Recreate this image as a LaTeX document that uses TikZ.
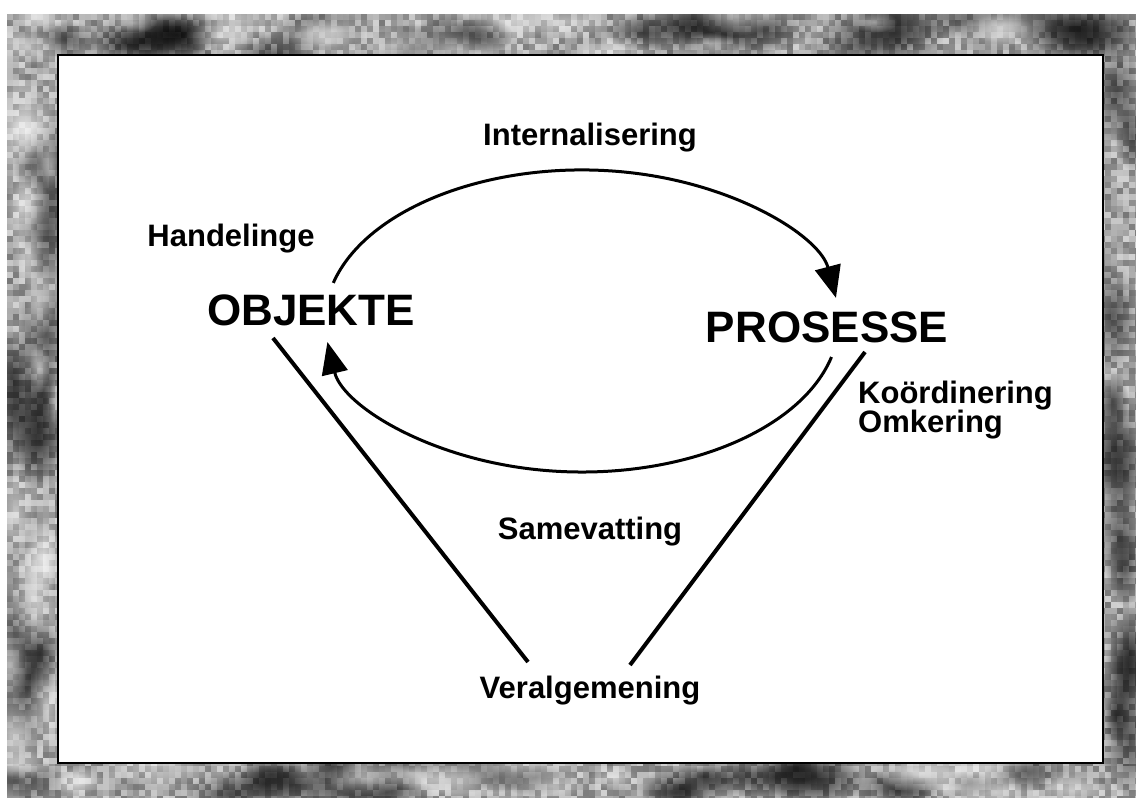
\documentclass[tikz,border=0pt]{standalone}
\usepackage{fontspec}
\setmainfont{Liberation Sans}
\usetikzlibrary{arrows.meta,fadings}
\tikzfading[name=softblob, inner color=transparent!0, outer color=transparent!100]
\tikzset{
  label/.style={font=\bfseries\fontsize{31}{36}\selectfont, inner sep=0pt, anchor=base},
  big/.style={font=\bfseries\fontsize{44}{50}\selectfont, inner sep=0pt, anchor=base},
  cycle/.style={line width=3pt, -{Triangle[length=32pt,width=26pt]}},
  leg/.style={line width=4pt},
  grain/.style={fill=black!#1},
  blob/.style={fill=black, opacity=0.5, path fading=softblob},
  glint/.style={fill=white, opacity=0.45, path fading=softblob}
}
\begin{document}
\begin{tikzpicture}[x=1pt,y=-1pt]
\useasboundingbox (0,0) rectangle (1136,798);

% grainy grey mount around the sheet
\fill[black!36] (7,14) rectangle (1136,798);
\begin{scope}
  \clip (7,14) rectangle (1136,798);
  \pgfmathsetseed{5}
  % fine grain, band by band
  \foreach \x in {7,13,...,1135}{
    \foreach \y in {14,20,...,56, 760,766,...,796}{
      \pgfmathtruncatemacro{\v}{18+36*rnd}
      \fill[grain=\v] (\x,\y) rectangle +(6,6);
    }
  }
  \foreach \y in {56,62,...,760}{
    \foreach \x in {7,13,...,55, 1099,1105,...,1135}{
      \pgfmathtruncatemacro{\v}{18+36*rnd}
      \fill[grain=\v] (\x,\y) rectangle +(6,6);
    }
  }
  % darker clouds
  \foreach \i in {1,...,24}{
    \pgfmathsetmacro{\px}{7+rnd*1129}
    \pgfmathsetmacro{\py}{14+rnd*41}
    \pgfmathsetmacro{\pr}{14+rnd*22}
    \fill[blob] (\px,\py) ellipse[x radius=\pr*2, y radius=\pr];
    \pgfmathsetmacro{\px}{7+rnd*1129}
    \pgfmathsetmacro{\py}{763+rnd*35}
    \pgfmathsetmacro{\pr}{12+rnd*18}
    \fill[blob] (\px,\py) ellipse[x radius=\pr*2, y radius=\pr];
  }
  \foreach \i in {1,...,13}{
    \pgfmathsetmacro{\px}{7+rnd*51}
    \pgfmathsetmacro{\py}{55+rnd*708}
    \pgfmathsetmacro{\pr}{14+rnd*20}
    \fill[blob] (\px,\py) ellipse[x radius=\pr, y radius=\pr*2];
    \pgfmathsetmacro{\px}{1103+rnd*33}
    \pgfmathsetmacro{\py}{55+rnd*708}
    \pgfmathsetmacro{\pr}{12+rnd*18}
    \fill[blob] (\px,\py) ellipse[x radius=\pr, y radius=\pr*2];
  }
  % lighter patches
  \foreach \i in {1,...,18}{
    \pgfmathsetmacro{\px}{7+rnd*1129}
    \pgfmathsetmacro{\py}{14+rnd*41}
    \pgfmathsetmacro{\pr}{10+rnd*16}
    \fill[glint] (\px,\py) ellipse[x radius=\pr*2.2, y radius=\pr];
    \pgfmathsetmacro{\px}{7+rnd*1129}
    \pgfmathsetmacro{\py}{763+rnd*35}
    \fill[glint] (\px,\py) ellipse[x radius=\pr*2.2, y radius=\pr];
    \pgfmathsetmacro{\px}{7+rnd*51}
    \pgfmathsetmacro{\py}{55+rnd*708}
    \fill[glint] (\px,\py) ellipse[x radius=\pr, y radius=\pr*2.2];
  }
\end{scope}

% white sheet
\fill[white] (58,55) rectangle (1103,763);
\draw[line width=2pt] (58,55) rectangle (1103,763);

% labels
\node[label] (int) at (590,145) {Internalisering};
\node[label] (han) at (231,246) {Handelinge};
\node[big]   (obj) at (311,325) {OBJEKTE};
\node[big]   (pro) at (827,342) {PROSESSE};
\node[label, anchor=base west] (koo) at (858,403) {Koördinering};
\node[label, anchor=base west] (omk) at (858,432) {Omkering};
\node[label] (sam) at (590,539) {Samevatting};
\node[label] (ver) at (590,698) {Veralgemening};

% cycle between objects and processes (ellipse centred at 582,321)
\coordinate (upstart) at (333.3,282.9);
\coordinate (lowstart) at (831.5,357);
\draw[cycle] (upstart) arc[start angle=-165.4, end angle=-8.8, x radius=257, y radius=151];
\draw[cycle] (lowstart) arc[start angle=13.8, end angle=172, x radius=257, y radius=151];

% the two legs meeting at generalisation
\coordinate (objfoot) at (273,338);
\coordinate (verl) at (528,662);
\coordinate (profoot) at (865,352);
\coordinate (verr) at (630,665);
\draw[leg] (objfoot) -- (verl);
\draw[leg] (profoot) -- (verr);
\end{tikzpicture}
\end{document}
